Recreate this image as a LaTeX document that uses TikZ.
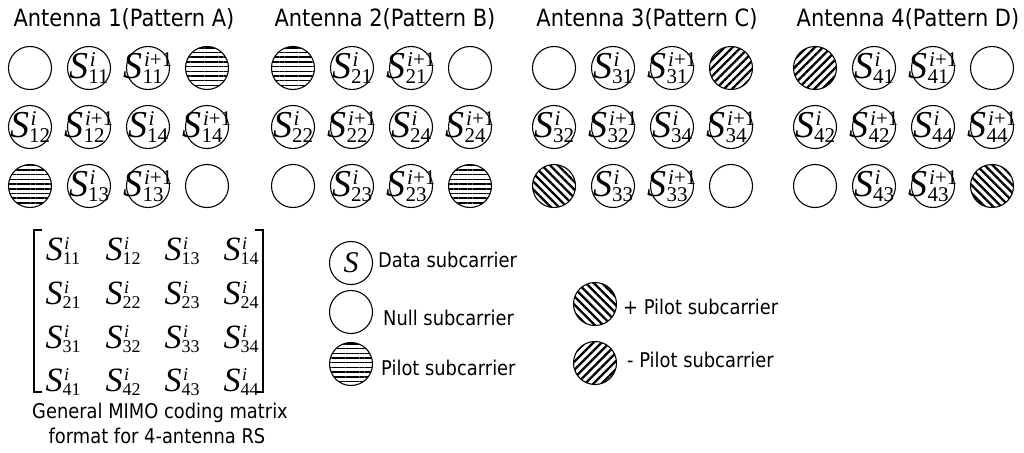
\documentclass[tikz,border=0pt]{standalone}
\usepackage{fontspec}
\setmainfont{DejaVu Sans}[FakeStretch=0.88]
\newfontfamily\tms{Liberation Serif}
\usetikzlibrary{patterns.meta}
% #1 S size, #2 script size, #3 superscript, #4 subscript, #5 raise, #6 lower
\newcommand\ent[6]{\mbox{\fontsize{#1}{#1}\selectfont\tms\itshape S}%
  \mbox{\fontsize{#2}{#2}\selectfont\tms
    \setbox0=\hbox{\hspace{1.5pt}#3}\setbox2=\hbox{#4}%
    \ifdim\wd0>\wd2 \dimen0=\wd0 \else \dimen0=\wd2 \fi
    \rlap{\raisebox{#5}{\box0}}\rlap{\raisebox{-#6}{\box2}}\hspace*{\dimen0}}}
\newcommand\ii{\textit{i}}
\newcommand\cs[2]{\ent{38}{21}{#1}{#2}{12pt}{5pt}}
\newcommand\ms[2]{\ent{34}{18}{#1}{#2}{11pt}{4.5pt}}
\newcommand\dcell[4][cell]{\node[#1] (#2) at (#3) {}; \node[ctext] at (#2) {#4};}
\begin{document}
\begin{tikzpicture}[x=1pt,y=-1pt,
  cell/.style={circle, draw, line width=1.1pt, minimum size=43pt, inner sep=0pt},
  hpil/.style={cell, pattern={Lines[angle=0,distance=4.7pt,line width=1.5pt]}},
  ppil/.style={cell, pattern={Lines[angle=-45,distance=5.8pt,line width=2.3pt]}},
  mpil/.style={cell, pattern={Lines[angle=45,distance=5.8pt,line width=2.3pt]}},
  ctext/.style={inner sep=0pt},
  title/.style={font=\fontsize{23.8}{28}\selectfont, anchor=base, inner sep=0pt},
  lgd/.style={font=\fontsize{20.3}{24}\selectfont, anchor=base west, inner sep=0pt},
  brk/.style={line width=1.1pt}]
\useasboundingbox (0,0) rectangle (1024,452);
% titles
\node[title] (t1) at (124,27) {Antenna 1(Pattern A)};
\node[title] (t2) at (385,27) {Antenna 2(Pattern B)};
\node[title] (t3) at (647,27) {Antenna 3(Pattern C)};
\node[title] (t4) at (908,27) {Antenna 4(Pattern D)};
% antenna 1
\node[cell] (a111) at (30,68) {};
\dcell{a112}{89,68}{\cs{\ii}{11}}
\dcell{a113}{148,68}{\cs{\ii+1}{11}}
\node[hpil] (a114) at (207,68) {};
\dcell{a121}{30,127}{\cs{\ii}{12}}
\dcell{a122}{89,127}{\cs{\ii+1}{12}}
\dcell{a123}{148,127}{\cs{\ii}{14}}
\dcell{a124}{207,127}{\cs{\ii+1}{14}}
\node[hpil] (a131) at (30,186) {};
\dcell{a132}{89,186}{\cs{\ii}{13}}
\dcell{a133}{148,186}{\cs{\ii+1}{13}}
\node[cell] (a134) at (207,186) {};
% antenna 2
\node[hpil] (a211) at (293,68) {};
\dcell{a212}{352,68}{\cs{\ii}{21}}
\dcell{a213}{411,68}{\cs{\ii+1}{21}}
\node[cell] (a214) at (470,68) {};
\dcell{a221}{293,127}{\cs{\ii}{22}}
\dcell{a222}{352,127}{\cs{\ii+1}{22}}
\dcell{a223}{411,127}{\cs{\ii}{24}}
\dcell{a224}{470,127}{\cs{\ii+1}{24}}
\node[cell] (a231) at (293,186) {};
\dcell{a232}{352,186}{\cs{\ii}{23}}
\dcell{a233}{411,186}{\cs{\ii+1}{23}}
\node[hpil] (a234) at (470,186) {};
% antenna 3
\node[cell] (a311) at (554,68) {};
\dcell{a312}{613,68}{\cs{\ii}{31}}
\dcell{a313}{672,68}{\cs{\ii+1}{31}}
\node[mpil] (a314) at (731,68) {};
\dcell{a321}{554,127}{\cs{\ii}{32}}
\dcell{a322}{613,127}{\cs{\ii+1}{32}}
\dcell{a323}{672,127}{\cs{\ii}{34}}
\dcell{a324}{731,127}{\cs{\ii+1}{34}}
\node[ppil] (a331) at (554,186) {};
\dcell{a332}{613,186}{\cs{\ii}{33}}
\dcell{a333}{672,186}{\cs{\ii+1}{33}}
\node[cell] (a334) at (731,186) {};
% antenna 4
\node[mpil] (a411) at (815,68) {};
\dcell{a412}{874,68}{\cs{\ii}{41}}
\dcell{a413}{933,68}{\cs{\ii+1}{41}}
\node[cell] (a414) at (992,68) {};
\dcell{a421}{815,127}{\cs{\ii}{42}}
\dcell{a422}{874,127}{\cs{\ii+1}{42}}
\dcell{a423}{933,127}{\cs{\ii}{44}}
\dcell{a424}{992,127}{\cs{\ii+1}{44}}
\node[cell] (a431) at (815,186) {};
\dcell{a432}{874,186}{\cs{\ii}{43}}
\dcell{a433}{933,186}{\cs{\ii+1}{43}}
\node[ppil] (a434) at (992,186) {};
% matrix
\foreach \r/\yy in {1/251,2/295,3/339,4/382}{
  \foreach \c/\xx in {1/63,2/123,3/182,4/241}{
    \node[ctext] (m\r\c) at (\xx,\yy) {\ms{\ii}{\r\c}};
  }
}
\draw[brk] (42,230) -- (34,230) -- (34,392) -- (42,392);
\draw[brk] (255,230) -- (263,230) -- (263,392) -- (255,392);
\node[lgd, anchor=base] (cap1) at (160,418) {General MIMO coding matrix};
\node[lgd, anchor=base] (cap2) at (157,443) {format for 4-antenna RS};
% legend
\dcell{ld}{351,263}{\fontsize{30}{30}\selectfont\tms\itshape S}
\node[lgd] (ldt) at (378,267) {Data subcarrier};
\node[cell] (ln) at (351,312) {};
\node[lgd] (lnt) at (383,325) {Null subcarrier};
\node[hpil] (lp) at (351,364) {};
\node[lgd] (lpt) at (381,375) {Pilot subcarrier};
\node[ppil] (lpp) at (595,304) {};
\node[lgd] (lppt) at (623,314) {+ Pilot subcarrier};
\node[mpil] (lmp) at (595,363) {};
\node[lgd] (lmpt) at (627,367) {- Pilot subcarrier};
\end{tikzpicture}
\end{document}
